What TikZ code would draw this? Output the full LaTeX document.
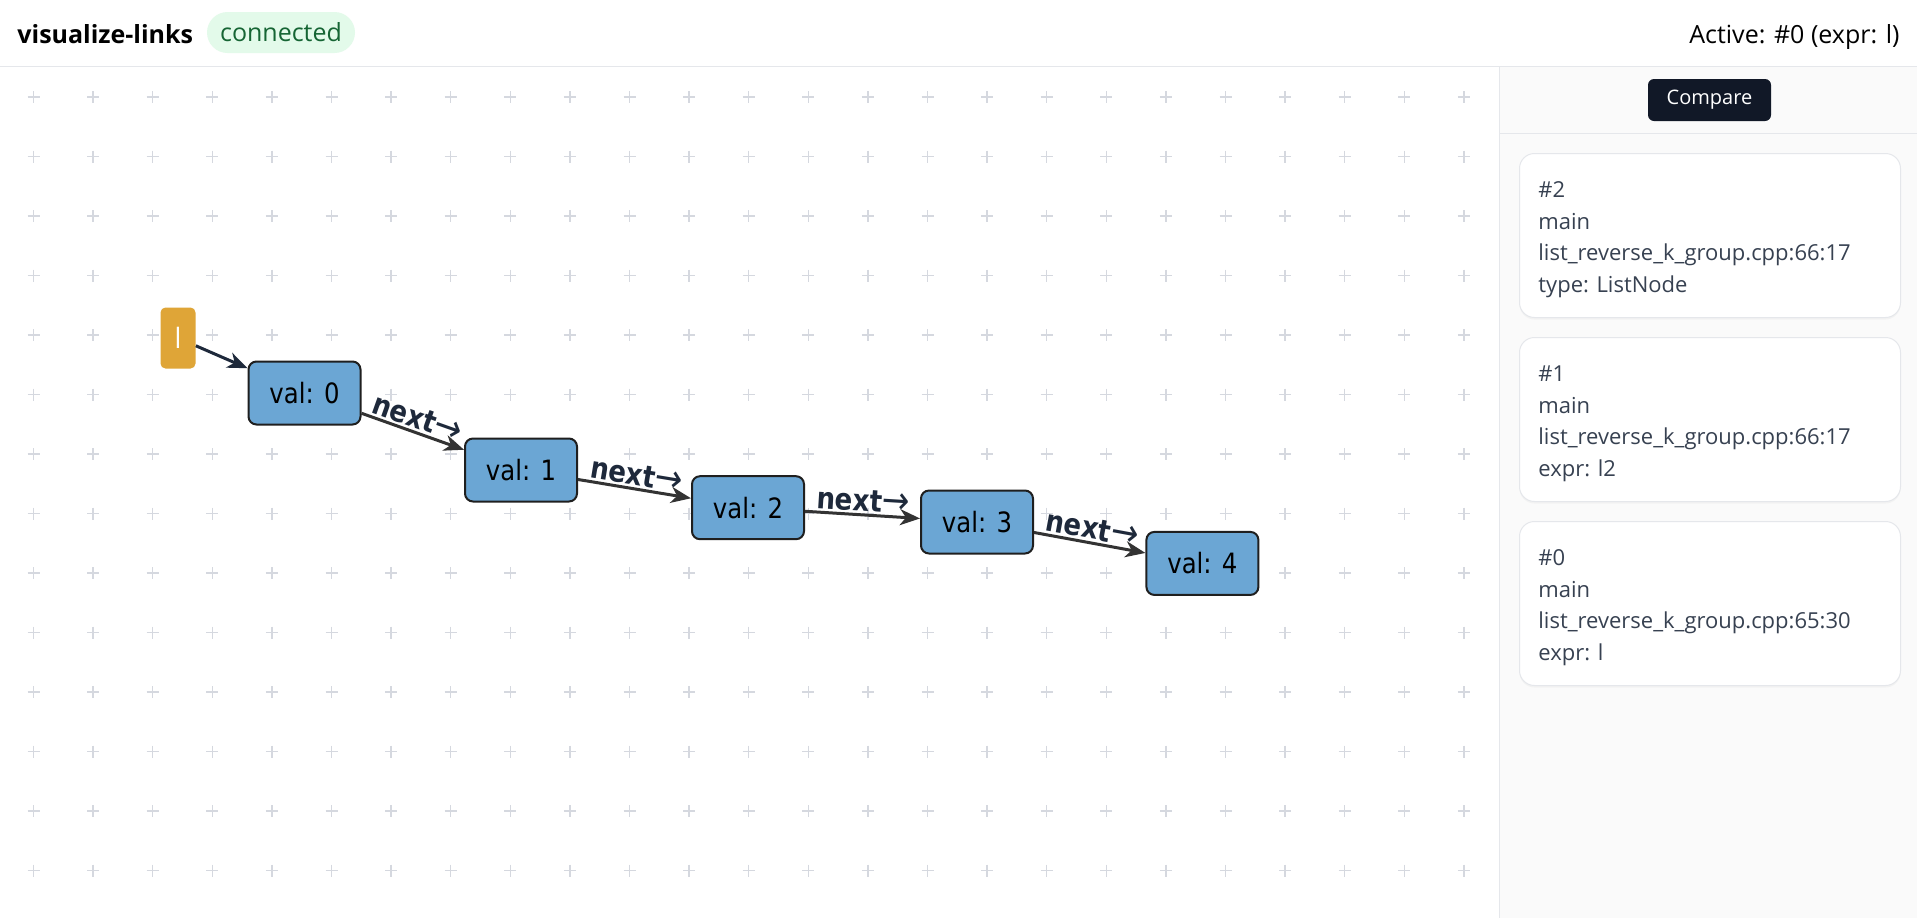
\documentclass[tikz,border=0pt]{standalone}
\usepackage{fontspec}
\setmainfont{Open Sans}
\newfontfamily\graphfont[FakeStretch=0.87]{DejaVu Sans}
\usetikzlibrary{positioning, arrows.meta, shadows}
\definecolor{gridc}{HTML}{D5D8DF}
\definecolor{linec}{HTML}{E5E7EB}
\definecolor{sidebg}{HTML}{FAFAFA}
\definecolor{valfill}{HTML}{6BA6D4}
\definecolor{valdraw}{HTML}{1F1F1F}
\definecolor{lfill}{HTML}{DFA537}
\definecolor{edgec}{HTML}{333333}
\definecolor{larrowc}{HTML}{1E293B}
\definecolor{lblc}{HTML}{1E293B}
\definecolor{okfill}{HTML}{E3FAEA}
\definecolor{oktext}{HTML}{166534}
\definecolor{btnfill}{HTML}{111827}
\definecolor{cardtext}{HTML}{374151}
\newcommand{\nextlbl}{\textbf{next}{\fontsize{19pt}{19pt}\selectfont →}}
\tikzstyle{valbox} = [draw=valdraw, fill=valfill, line width=1pt, rounded corners=4pt, minimum width=56pt, minimum height=31.5pt, inner sep=0pt, font=\graphfont\fontsize{14pt}{16pt}\selectfont]
\tikzstyle{varbox} = [fill=lfill, rounded corners=2.5pt, minimum width=17.5pt, minimum height=30.5pt, inner sep=0pt, text=white, font=\graphfont\fontsize{14pt}{16pt}\selectfont]
\tikzstyle{link} = [line width=1.5pt, draw=edgec, -{Stealth[length=10pt, width=8pt, inset=3pt]}]
\tikzstyle{lbl} = [midway, sloped, above, inner sep=1pt, text=lblc, font=\graphfont\fontsize{15pt}{17pt}\selectfont]
\tikzstyle{plus} = [draw=gridc, line width=0.65pt]
\tikzstyle{card} = [draw=linec, fill=white, line width=0.5pt, rounded corners=7.5pt, minimum width=190.5pt, minimum height=82pt, drop shadow={opacity=0.06, shadow xshift=0pt, shadow yshift=-1pt}]
\tikzstyle{cardtext} = [inner sep=0pt, text=cardtext, font=\fontsize{11pt}{12pt}\selectfont]

\begin{document}
\begin{tikzpicture}[x=0.5pt, y=-0.5pt, node distance=112.5pt]
    \useasboundingbox (0,0) rectangle (1917,918);
    \fill[white] (0,0) rectangle (1917,918);
    % canvas grid
    \foreach \i in {0,...,24}
        \foreach \j in {0,...,13}
            \draw[plus] (33.5+59.6*\i,97+59.5*\j) +(-6,0) -- +(6,0) +(0,-6) -- +(0,6);
    % header and side panel
    \draw[linec, line width=0.5pt] (0,66) -- (1917,66);
    \fill[sidebg] (1499,66.5) rectangle (1917,918);
    \draw[linec, line width=0.5pt] (1499,66) -- (1499,918);
    \draw[linec, line width=0.5pt] (1499,133) -- (1917,133);
    \node[anchor=base west, inner sep=0pt, font=\bfseries\fontsize{12.5pt}{14pt}\selectfont] (title) at (17,43) {visualize-links};
    \node[fill=okfill, text=oktext, rounded corners=10.25pt, minimum width=74pt, minimum height=20.5pt, inner sep=0pt, font=\fontsize{12.5pt}{14pt}\selectfont] (status) at (281,32.5) {connected};
    \node[anchor=base east, inner sep=0pt, font=\fontsize{12.5pt}{14pt}\selectfont] (active) at (1900,43) {Active: \#0 (expr: l)};
    \node[fill=btnfill, text=white, rounded corners=3pt, minimum width=61.5pt, minimum height=21pt, inner sep=0pt, font=\fontsize{10pt}{12pt}\selectfont] (compare) at (1709.5,100) {Compare};
    % frame cards
    \foreach \k/\top/\loc/\info in {2/153/66:17/type: ListNode, 1/337/66:17/expr: l2, 0/521/65:30/expr: l}{
        \node[card, anchor=north west] (card\k) at (1519,\top) {};
        \node[cardtext, anchor=base west] (num\k) at (1538,\top+44) {\#\k};
        \node[cardtext, anchor=base west] (fn\k) at (1538,\top+76) {main};
        \node[cardtext, anchor=base west] (loc\k) at (1538,\top+107) {list\_reverse\_k\_group.cpp:\loc};
        \node[cardtext, anchor=base west] (info\k) at (1538,\top+139) {\info};
    }
    % linked list
    \node[varbox] (l) at (178,338) {l};
    \node[valbox] (n0) at (304.5,393) {val: 0};
    \node[valbox, right of=n0, xshift=-4.25pt, yshift=-38.5pt] (n1) {val: 1};
    \node[valbox, right of=n1, xshift=1pt, yshift=-18.85pt] (n2) {val: 2};
    \node[valbox, right of=n2, xshift=2pt, yshift=-7.15pt] (n3) {val: 3};
    \node[valbox, right of=n3, xshift=0.2pt, yshift=-20.7pt] (n4) {val: 4};
    \draw[link, draw=larrowc] (l) -- (n0);
    \draw[link] (n0) -- node[lbl] {\nextlbl} (n1);
    \draw[link] (n1) -- node[lbl] {\nextlbl} (n2);
    \draw[link] (n2) -- node[lbl] {\nextlbl} (n3);
    \draw[link] (n3) -- node[lbl] {\nextlbl} (n4);
\end{tikzpicture}
\end{document}
